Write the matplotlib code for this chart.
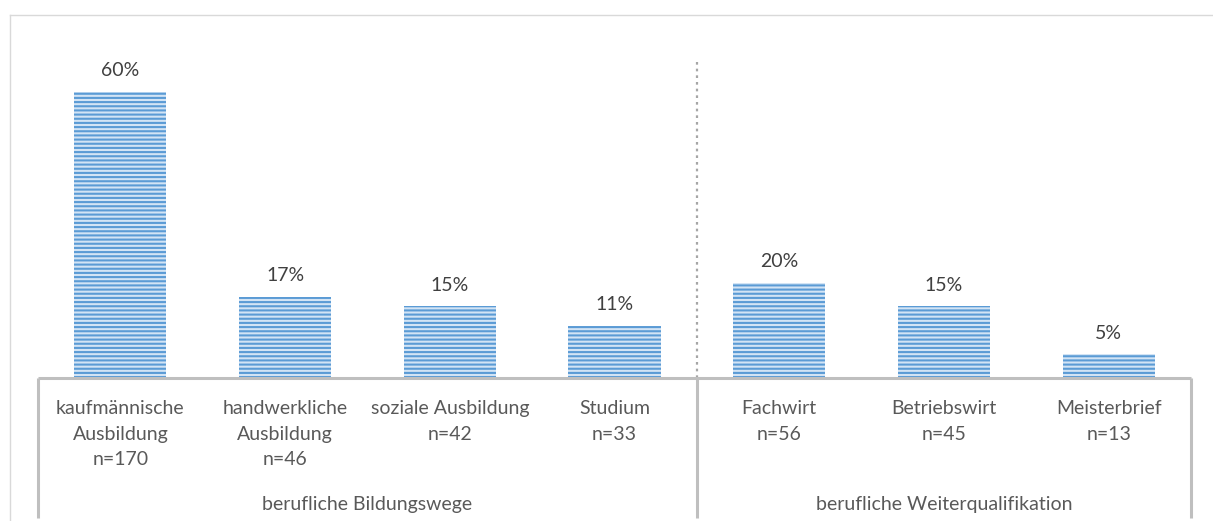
import matplotlib.pyplot as plt
from matplotlib.lines import Line2D

plt.rcParams['font.family'] = ['Lato', 'DejaVu Sans']
plt.rcParams['hatch.linewidth'] = 1.5

categories = ['kaufmännische\nAusbildung', 'handwerkliche\nAusbildung', 'soziale Ausbildung',
              'Studium', 'Fachwirt', 'Betriebswirt', 'Meisterbrief']
counts = [170, 46, 42, 33, 56, 45, 13]
shares = [60, 17, 15, 11, 20, 15, 5]
groups = ['berufliche Bildungswege', 'berufliche Weiterqualifikation']
group_sizes = [4, 3]

grey_text = '#595959'
axis_grey = '#BFBFBF'

fig = plt.figure(figsize=(12.13, 5.21), dpi=100)
W, H = 1213, 521
# axes spans the category area; bottom edge is the baseline of the bars
ax = fig.add_axes([38 / W, 1 - 378 / H, (1191 - 38) / W, (378 - 15) / H])
ax.set_xlim(-0.5, len(categories) - 0.5)
ax.set_ylim(0, (378 - 15) / 4.77)
ax.axis('off')

x = list(range(len(categories)))
# striped bars: light fill with dark blue horizontal hatch (hatch takes the edge colour)
ax.bar(x, shares, width=0.56, color='#D3E4F5', edgecolor='#5B9BD5', linewidth=0,
       hatch='----', zorder=2)

for xi, s in zip(x, shares):
    ax.annotate(f'{s}%', (xi, s), xytext=(0, 9), textcoords='offset points',
                ha='center', va='bottom', fontsize=14, color='#404040')

for xi, cat, n in zip(x, categories, counts):
    ax.annotate(f'{cat}\nn={n}', (xi, 0), xycoords=('data', 'axes fraction'),
                xytext=(0, -16), textcoords='offset points', ha='center', va='top',
                fontsize=14, color=grey_text, linespacing=1.6)

# group labels under the categories
start = 0
for g, size in zip(groups, group_sizes):
    centre = start + (size - 1) / 2
    ax.annotate(g, (centre, 0), xycoords=('data', 'axes fraction'),
                xytext=(0, -85), textcoords='offset points', ha='center', va='top',
                fontsize=14, color=grey_text)
    start += size

# category axis line and group separators
trans = ax.get_xaxis_transform()
ax.plot([-0.5, 6.5], [0, 0], color=axis_grey, lw=2.2, transform=trans, clip_on=False,
        solid_capstyle='butt', zorder=3)
drop = -(518 - 378) / (378 - 15)
for xs in [-0.5, 3.5, 6.5]:
    ax.plot([xs, xs], [0, drop], color=axis_grey, lw=2.2, transform=trans, clip_on=False,
            solid_capstyle='butt', zorder=3)

# dotted divider between the two groups
ax.plot([3.5, 3.5], [0, (378 - 60) / 4.77], color='#A6A6A6', lw=1.6,
        linestyle=(0, (1.2, 1.8)), zorder=1)

# light frame around the chart
fig.add_artist(Line2D([10 / W, 1], [1 - 15 / H, 1 - 15 / H], color='#D9D9D9', lw=1))
fig.add_artist(Line2D([10 / W, 10 / W], [0, 1 - 15 / H], color='#D9D9D9', lw=1))

fig.savefig('out.png', dpi=100, facecolor='white')
